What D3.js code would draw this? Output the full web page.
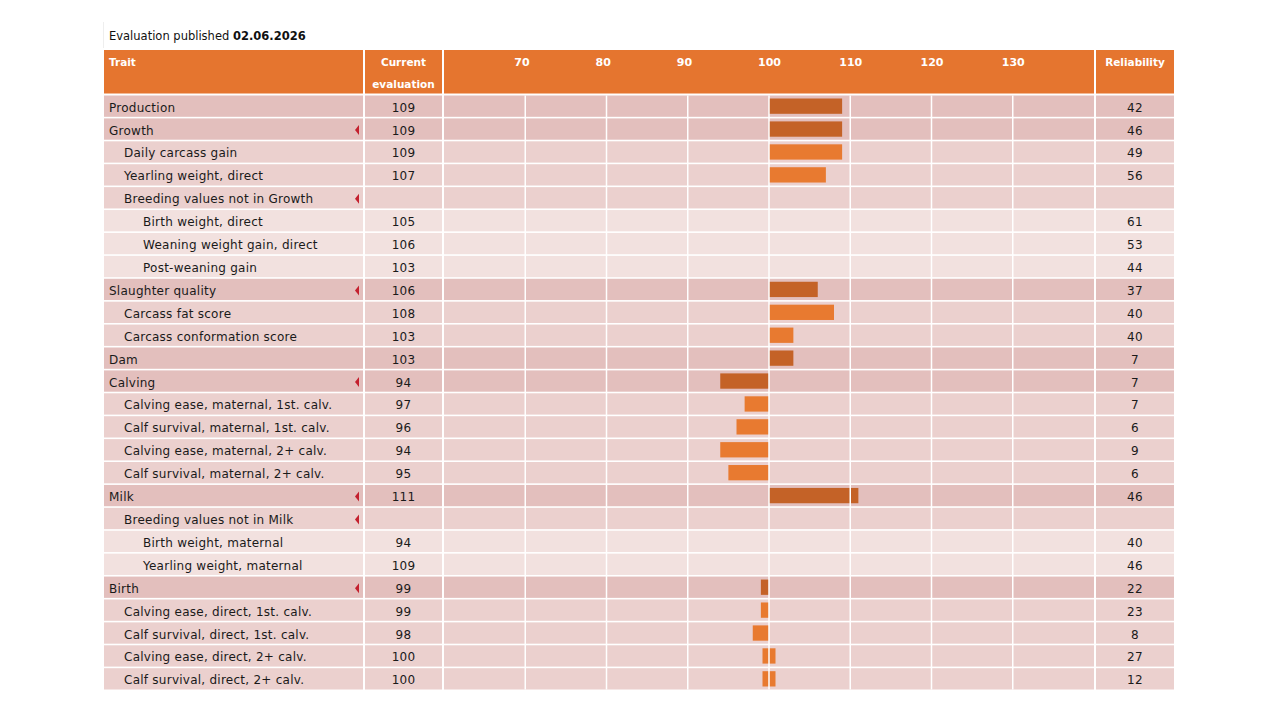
<!DOCTYPE html>
<html>
<head>
<meta charset="utf-8">
<script src="https://cdn.jsdelivr.net/npm/d3@7"></script>
<style>
  body { margin: 0; background: #fff; }
  svg { display: block; font-family: "DejaVu Sans", Verdana, sans-serif; }
</style>
</head>
<body>
<svg id="chart"></svg>
<script>
var published = "02.06.2026";

var traits = [
  "Production", "Growth", "Daily carcass gain", "Yearling weight, direct",
  "Breeding values not in Growth", "Birth weight, direct", "Weaning weight gain, direct",
  "Post-weaning gain", "Slaughter quality", "Carcass fat score", "Carcass conformation score",
  "Dam", "Calving", "Calving ease, maternal, 1st. calv.", "Calf survival, maternal, 1st. calv.",
  "Calving ease, maternal, 2+ calv.", "Calf survival, maternal, 2+ calv.", "Milk",
  "Breeding values not in Milk", "Birth weight, maternal", "Yearling weight, maternal",
  "Birth", "Calving ease, direct, 1st. calv.", "Calf survival, direct, 1st. calv.",
  "Calving ease, direct, 2+ calv.", "Calf survival, direct, 2+ calv."
];
var levels = [0, 0, 1, 1, 1, 2, 2, 2, 0, 1, 1, 0, 0, 1, 1, 1, 1, 0, 1, 2, 2, 0, 1, 1, 1, 1];
var evaluations = [109, 109, 109, 107, null, 105, 106, 103, 106, 108, 103, 103, 94, 97, 96, 94, 95,
  111, null, 94, 109, 99, 99, 98, 100, 100];
var reliability = [42, 46, 49, 56, null, 61, 53, 44, 37, 40, 40, 7, 7, 7, 6, 9, 6, 46, null, 40, 46,
  22, 23, 8, 27, 12];
var showBar = [1, 1, 1, 1, 0, 0, 0, 0, 1, 1, 1, 1, 1, 1, 1, 1, 1, 1, 0, 0, 0, 1, 1, 1, 1, 1];
var expandable = [0, 1, 0, 0, 1, 0, 0, 0, 1, 0, 0, 0, 1, 0, 0, 0, 0, 1, 1, 0, 0, 1, 0, 0, 0, 0];
var ticks = [70, 80, 90, 100, 110, 120, 130];

var width = 1280, height = 720;
var svg = d3.select('#chart').attr('width', width).attr('height', height);

var cols = {
  trait: [104, 363],
  evalc: [365, 442],
  chart: [444, 1094],
  rel: [1096, 1174]
};
var headTop = 50, headBottom = 93.5;
var rowTop = 95.5, rowBottom = 689.5;

var x = d3.scaleLinear().domain([60, 140]).range(cols.chart);
var y = d3.scaleBand().domain(d3.range(traits.length)).range([rowTop, rowBottom]).paddingInner(0.07).paddingOuter(0);

var rowFill = ['#e3bfbd', '#ebd0ce', '#f2e1df'];
var orange = '#e5752f';
var darkBar = '#c46227';
var lightBar = '#e87a30';
var bodySize = 12, bodySpacing = 0.25;

// title
var title = svg.append('text')
  .attr('x', 109).attr('y', 40)
  .attr('font-size', 11.5).attr('fill', '#111');
title.append('tspan').text('Evaluation published ');
title.append('tspan').attr('font-weight', 'bold').text(published);

svg.append('line')
  .attr('x1', 103.5).attr('x2', 103.5).attr('y1', 22).attr('y2', 48)
  .attr('stroke', '#eee');

// header
var head = svg.append('g')
  .attr('font-size', 10.5).attr('font-weight', 'bold').attr('fill', '#fff');
Object.keys(cols).forEach(function (k) {
  head.append('rect')
    .attr('x', cols[k][0]).attr('y', headTop)
    .attr('width', cols[k][1] - cols[k][0]).attr('height', headBottom - headTop)
    .attr('fill', orange);
});
head.append('text').attr('x', 109).attr('y', 66).text('Trait');
head.append('text').attr('x', (cols.evalc[0] + cols.evalc[1]) / 2).attr('y', 66).text('Current')
  .attr('text-anchor', 'middle');
head.append('text').attr('x', (cols.evalc[0] + cols.evalc[1]) / 2).attr('y', 88).text('evaluation')
  .attr('text-anchor', 'middle');
head.append('text').attr('x', (cols.rel[0] + cols.rel[1]) / 2).attr('y', 66).text('Reliability')
  .attr('text-anchor', 'middle');
head.selectAll('.tick')
  .data(ticks)
  .enter()
  .append('text')
  .attr('class', 'tick')
  .attr('x', function (d) { return x(d) - 11; })
  .attr('y', 66)
  .attr('font-size', 11)
  .text(function (d) { return d; });

// rows
var rows = svg.append('g').selectAll('g')
  .data(traits)
  .enter()
  .append('g')
  .attr('transform', function (d, i) { return 'translate(0,' + y(i) + ')'; });

Object.keys(cols).forEach(function (k) {
  rows.append('rect')
    .attr('x', cols[k][0])
    .attr('width', cols[k][1] - cols[k][0])
    .attr('height', y.bandwidth())
    .attr('fill', function (d, i) { return rowFill[levels[i]]; });
});

var mid = y.bandwidth() / 2 + 5.5;

rows.append('text')
  .attr('x', function (d, i) { return 109 + [0, 15, 34][levels[i]]; })
  .attr('y', mid)
  .attr('font-size', bodySize).attr('letter-spacing', bodySpacing).attr('fill', '#1a1a1a')
  .text(function (d) { return d; });

rows.filter(function (d, i) { return expandable[i]; })
  .append('path')
  .attr('d', 'M355,' + (y.bandwidth() / 2 + 1) + 'l4,-5v10z')
  .attr('fill', '#c4202e');

rows.append('text')
  .attr('x', (cols.evalc[0] + cols.evalc[1]) / 2)
  .attr('y', mid)
  .attr('text-anchor', 'middle')
  .attr('font-size', bodySize).attr('letter-spacing', bodySpacing).attr('fill', '#1a1a1a')
  .text(function (d, i) { return evaluations[i] == null ? '' : evaluations[i]; });

rows.append('text')
  .attr('x', (cols.rel[0] + cols.rel[1]) / 2)
  .attr('y', mid)
  .attr('text-anchor', 'middle')
  .attr('font-size', bodySize).attr('letter-spacing', bodySpacing).attr('fill', '#1a1a1a')
  .text(function (d, i) { return reliability[i] == null ? '' : reliability[i]; });

// bars
var barInset = 3, barH = y.bandwidth() - 6;
rows.filter(function (d, i) { return showBar[i] && evaluations[i] != null; })
  .append('rect')
  .attr('x', function (d) {
    var v = evaluations[traits.indexOf(d)];
    if (v === 100) return x(99.2);
    return Math.min(x(v), x(100));
  })
  .attr('y', barInset)
  .attr('width', function (d) {
    var v = evaluations[traits.indexOf(d)];
    if (v === 100) return x(100.8) - x(99.2);
    return Math.abs(x(v) - x(100));
  })
  .attr('height', barH)
  .attr('fill', function (d) { return levels[traits.indexOf(d)] === 0 ? darkBar : lightBar; });

// gridlines over the bars
svg.append('g').selectAll('line')
  .data(ticks)
  .enter()
  .append('line')
  .attr('x1', function (d) { return x(d); })
  .attr('x2', function (d) { return x(d); })
  .attr('y1', rowTop)
  .attr('y2', rowBottom)
  .attr('stroke', '#fff')
  .attr('stroke-width', 1.5);
</script>
</body>
</html>
